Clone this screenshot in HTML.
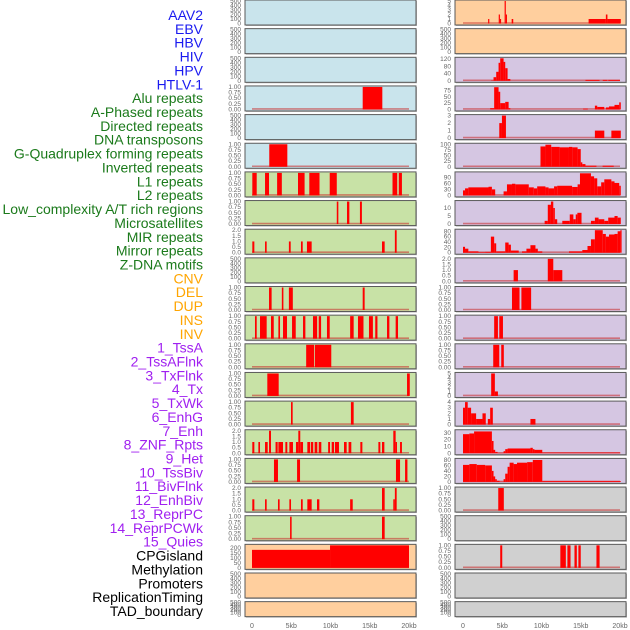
<!DOCTYPE html>
<html><head><meta charset="utf-8">
<style>
html,body{margin:0;padding:0;background:#fff;}
svg{display:block;font-family:"Liberation Sans",sans-serif;}
</style></head>
<body>
<svg id="chart" width="630" height="630" viewBox="0 0 630 630"></svg>
<script>
// ---------- labels ----------
const trackLabels = ["AAV2","EBV","HBV","HIV","HPV","HTLV-1","Alu repeats","A-Phased repeats","Directed repeats","DNA transposons","G-Quadruplex forming repeats","Inverted repeats","L1 repeats","L2 repeats","Low_complexity A/T rich regions","Microsatellites","MIR repeats","Mirror repeats","Z-DNA motifs","CNV","DEL","DUP","INS","INV","1_TssA","2_TssAFlnk","3_TxFlnk","4_Tx","5_TxWk","6_EnhG","7_Enh","8_ZNF_Rpts","9_Het","10_TssBiv","11_BivFlnk","12_EnhBiv","13_ReprPC","14_ReprPCWk","15_Quies","CPGisland","Methylation","Promoters","ReplicationTiming","TAD_boundary"];
const labelGroups = [6,13,5,15,5];
const xTickValues = [0,5,10,15,20];
const xTickLabels = ["0","5kb","10kb","15kb","20kb"];

// ---------- left column data: [startKb, endKb, value] ----------
const L1=[],L2=[],L3=[],L5=[],L10=[],L21=[],L22=[];
const L4=[[14.1,16.6,1]];
const L6=[[2.2,4.5,1]];
const L7=[[0.04,0.6,1],[1.66,2.17,1],[3.2,3.8,1],[5.86,6.7,1],[7.3,8.6,1],[9.9,10.8,1],[17.9,18.5,1],[18.7,19.1,1]];
const L8=[[10.8,11.0,1],[12.1,12.4,1],[13.75,14.0,1]];
const L9=[[0.04,0.3,1],[1.66,1.87,1],[4.7,4.93,1],[6.24,6.46,1],[7.0,7.6,1],[16.56,16.9,1],[18.2,18.43,2]];
const L11=[[2.17,2.5,1],[3.8,4.0,1],[4.7,5.2,1],[14.1,14.35,1]];
const L12=[[0.38,0.6,1],[1.02,1.87,1],[2.42,2.77,1],[3.36,3.57,1],[3.95,4.46,1],[5.1,5.57,1],[6.5,6.8,1],[7.77,8.3,1],[8.5,8.8,1],[9.55,9.9,1],[12.5,12.95,1],[13.5,14.2,1],[14.9,15.4,1],[15.7,15.98,1],[17.2,17.5,1],[18.3,18.6,1]];
const L13=[[6.9,7.9,1],[8.0,10.1,1]];
const L14=[[1.95,3.4,1],[19.75,20.1,1]];
const L15=[[4.97,5.18,1],[12.6,12.95,1]];
const L16=[[0.04,0.3,1],[0.81,1.02,1],[1.66,2.0,1],[2.17,2.42,2],[3.0,3.27,1],[3.36,3.95,1],[4.25,4.5,1],[4.76,5.22,1],[5.6,5.9,1],[5.9,6.15,2],[6.15,6.5,1],[7.05,7.4,1],[7.5,7.8,1],[7.98,8.32,1],[8.5,8.83,1],[9.7,9.94,1],[10.15,10.45,1],[10.57,11.08,1],[11.72,12.06,1],[12.3,12.65,1],[13.8,14.06,1],[16.1,16.35,1],[16.56,16.86,1],[18.0,18.3,2],[18.3,18.47,1],[18.86,19.1,1]];
const L17=[[2.8,3.31,1],[5.74,6.12,1],[18.34,18.86,1],[19.5,19.8,1]];
const L18=[[0.04,0.3,1],[1.66,1.87,1],[3.31,3.52,1],[4.76,4.97,1],[6.24,6.46,1],[7.05,7.6,1],[8.28,8.58,1],[12.5,12.83,1],[16.56,16.9,2],[18.0,18.2,1],[18.2,18.43,2]];
const L19=[[4.85,5.05,1],[16.56,16.9,1]];
const L20=[[0,9.94,180],[9.94,20,240]];

// ---------- right column data ----------
const R2=[],R19=[],R21=[],R22=[];
const R1=[[3.2,3.35,1],[4.55,4.7,2],[4.7,4.85,1],[5.3,5.45,5],[5.45,5.6,2],[6.2,6.4,1],[16.0,18.2,1],[18.2,18.4,2],[18.4,20.1,1]];
const R3=[[3.59,3.89,2],[3.89,4.23,20],[4.23,4.53,50],[4.53,4.74,100],[4.74,5.17,125],[5.17,5.38,105],[5.38,5.68,70],[5.68,6.03,10],[15.6,17.4,5],[17.8,18.4,5],[18.5,20.0,5]];
const R4=[[3.46,3.97,5],[3.97,4.53,88],[4.53,4.74,70],[4.74,5.38,25],[5.38,5.81,30],[5.81,6.03,5],[15.3,15.9,3],[16.8,17.1,15],[17.1,18.0,10],[18.2,18.6,8],[18.6,19.3,12],[19.3,19.9,18],[19.9,20.1,28]];
const R5=[[4.62,4.96,2],[4.96,5.47,3],[16.8,18.0,1],[18.9,20.1,1]];
const R6=[[9.87,10.5,92],[10.5,11.24,100],[11.24,12.31,90],[12.31,13.5,88],[13.5,13.93,90],[13.93,14.6,88],[14.6,15.0,80],[15.0,15.2,20],[15.2,15.6,12],[15.6,17.0,5],[17.78,19.2,5]];
const R7=[[0,0.26,25],[0.26,0.68,35],[0.68,3.25,40],[3.25,3.68,43],[3.68,4.1,30],[5.17,5.6,20],[5.6,6.24,55],[6.24,6.67,58],[6.67,8.38,55],[8.38,9.02,40],[9.02,9.45,35],[9.45,10.5,45],[10.5,10.9,40],[10.9,11.6,35],[11.6,12.0,45],[12.0,13.9,48],[13.9,14.6,42],[14.6,14.9,55],[14.9,16.3,110],[16.3,16.7,95],[16.7,17.1,85],[17.1,17.6,45],[17.6,18.0,65],[18.0,18.9,80],[18.9,19.3,70],[19.3,19.9,62],[19.9,20.1,48]];
const R8=[[10.4,10.8,2],[10.8,11.2,12],[11.2,11.5,14],[11.5,11.7,10],[11.7,12.0,3],[12.65,13.6,2],[13.6,14.06,6],[14.06,14.36,3],[14.36,14.57,6],[14.57,15.1,7],[16.3,16.8,2],[16.8,17.27,4],[17.27,18.0,3],[18.0,18.5,2],[18.5,19.3,4],[19.3,19.7,5],[19.7,20.1,4]];
const R9=[[0,0.26,22],[0.26,0.68,15],[0.68,1.97,5],[1.97,2.82,2],[2.82,3.55,3],[3.55,3.97,60],[3.97,4.23,35],[4.23,5.38,5],[5.38,5.81,38],[5.81,6.1,30],[6.1,7.1,8],[7.52,8.08,5],[8.08,8.59,15],[8.59,9.23,28],[9.23,9.53,15],[9.53,10.1,5],[13.5,15.2,5],[15.2,15.86,10],[15.86,16.3,25],[16.3,16.8,50],[16.8,17.8,84],[17.8,18.2,70],[18.2,18.6,60],[18.6,19.3,68],[19.3,19.7,70],[19.7,20.05,80],[20.05,20.1,84]];
const R10=[[6.45,7.0,1],[10.8,11.5,2],[11.5,12.65,1]];
const R11=[[6.24,7.2,1],[7.44,8.68,1]];
const R12=[[3.97,4.45,1],[4.62,5.09,1]];
const R13=[[3.85,4.62,1],[4.87,5.2,1]];
const R14=[[3.59,4.06,5],[4.06,4.45,1]];
const R15=[[0,0.26,3],[0.26,0.6,4],[0.6,1.03,3],[1.03,1.67,2],[1.67,2.48,1],[2.48,2.9,2],[3.16,3.46,1],[3.46,3.8,3],[8.59,9.23,1]];
const R16=[[0,0.81,28],[0.81,1.41,29],[1.41,3.68,32],[3.68,3.89,18],[3.89,4.1,5],[4.1,4.4,2],[4.4,5.17,0.5],[5.17,5.38,3],[5.38,5.68,6],[5.68,8.59,7],[8.59,8.89,8],[8.89,9.1,6],[9.1,10.1,5],[10.1,20.05,1]];
const R17=[[0,0.81,62],[0.81,1.75,65],[1.75,2.82,62],[2.82,3.68,60],[3.68,3.89,40],[3.89,4.1,20],[4.1,4.3,10],[4.3,4.66,4],[4.66,5.17,1],[5.17,5.38,10],[5.38,5.68,30],[5.68,5.94,55],[5.94,6.45,70],[6.45,6.88,65],[6.88,8.17,70],[8.17,8.89,72],[8.89,10.1,80],[10.1,20.1,3]];
const R18=[[4.49,5.2,1]];
const R20=[[4.74,5.0,1],[12.4,13.1,1],[13.3,13.7,1],[14.2,14.5,1],[14.7,15.0,1],[17.0,17.4,1]];

const leftData=[L1,L2,L3,L4,L5,L6,L7,L8,L9,L10,L11,L12,L13,L14,L15,L16,L17,L18,L19,L20,L21,L22];
const rightData=[R1,R2,R3,R4,R5,R6,R7,R8,R9,R10,R11,R12,R13,R14,R15,R16,R17,R18,R19,R20,R21,R22];

// axis specs: [axisMax, tickStep, tickMax, decimals] ; null = empty panel
const A1=[1,0.25,1,2], A2=[2,0.5,2,1];
const leftAxes=[null,null,null,A1,null,A1,A1,A1,A2,null,A1,A1,A1,A1,A1,A2,A1,A2,A1,[225,50,200,0],null,null];
const rightAxes=[[5,1,5,0],null,[125,40,120,0],[89,25,75,0],[3,1,3,0],[102,25,100,0],[112,30,90,0],[14,5,10,0],[84,20,80,0],A2,A1,A1,A1,[5,1,5,0],[4,1,4,0],[33,10,30,0],[82,20,80,0],A1,null,A1,null,null];

const C_BLUE="#c9e4ec",C_GREEN="#c8e2a6",C_ORANGE="#ffcf9e",C_PURPLE="#d5c6e2",C_GRAY="#d0d0d0";
const leftBg=[...Array(6).fill(C_BLUE),...Array(13).fill(C_GREEN),...Array(3).fill(C_ORANGE)];
const rightBg=[...Array(2).fill(C_ORANGE),...Array(15).fill(C_PURPLE),...Array(5).fill(C_GRAY)];

const NS="http://www.w3.org/2000/svg";
const svg=document.getElementById("chart");
function mk(tag,attrs,parent){const e=document.createElementNS(NS,tag);for(const k in attrs)e.setAttribute(k,attrs[k]);(parent||svg).appendChild(e);return e;}

// labels
const groupColors=["#1a1af0","#1b7a1b","#ffa500","#a020f0","#000000"];
let li=0;
labelGroups.forEach((n,g)=>{for(let k=0;k<n;k++){
  const t=mk("text",{x:203,y:(20+li*13.86).toFixed(1),"text-anchor":"end","font-size":"14",fill:groupColors[g]});
  t.textContent=trackLabels[li];
  
  
  li++;}});

function drawColumn(data,axes,bgs,px0,px1,dx0,dx20,tickX,side){
  const xs=kb=>dx0+(kb/20)*(dx20-dx0);
  data.forEach((segs,i)=>{
    const top=i*28.65, h=(i===21)?15:25;
    const g=mk("g",{});
    
    
    mk("rect",{x:px0+1,y:top+1,width:px1-px0,height:h,fill:"#b8b8b8"},g);
    mk("rect",{x:px0,y:top,width:px1-px0,height:h,fill:bgs[i],stroke:"#5a5a5a","stroke-width":1},g);
    const ax=axes[i];
    const y0=top+h-1.5, yTop=top+1;
    if(!ax){
      [0,100,200,300,400,500].forEach(v=>{
        const t=mk("text",{x:tickX,y:(y0-(v/500)*(y0-yTop)+2).toFixed(1),"text-anchor":"end","font-size":"6.5",fill:"#666"},g);
        t.textContent=String(v);
      });
      return;
    }
    const [amax,step,tmax,dec]=ax;
    const ys=v=>y0-(Math.min(v,amax)/amax)*(y0-yTop);
    for(let v=0;v<=tmax+1e-9;v+=step){
      const t=mk("text",{x:tickX,y:(ys(v)+2).toFixed(1),"text-anchor":"end","font-size":"6.5",fill:"#666"},g);
      t.textContent=v.toFixed(dec);
    }
    mk("line",{x1:xs(0),x2:xs(20),y1:y0-0.5,y2:y0-0.5,stroke:"rgba(200,40,40,0.55)","stroke-width":1.6},g);
    segs.forEach(s=>{
      const x1=xs(Math.max(0,s[0])), x2=xs(s[1]);
      const r=mk("rect",{x:x1.toFixed(2),y:ys(s[2]).toFixed(2),width:Math.max(1.2,x2-x1).toFixed(2),height:(y0-ys(s[2])).toFixed(2),fill:"#ff0000"},g);
      
      
    });
  });
  xTickValues.forEach((v,k)=>{
    const t=mk("text",{x:xs(v),y:628,"text-anchor":"middle","font-size":"7",fill:"#666"});
    t.textContent=xTickLabels[k];
    
    
  });
}
drawColumn(leftData,leftAxes,leftBg,245,416,252,409,241,'left');
drawColumn(rightData,rightAxes,rightBg,455,626,463,620,451,'right');
</script>
</body></html>
